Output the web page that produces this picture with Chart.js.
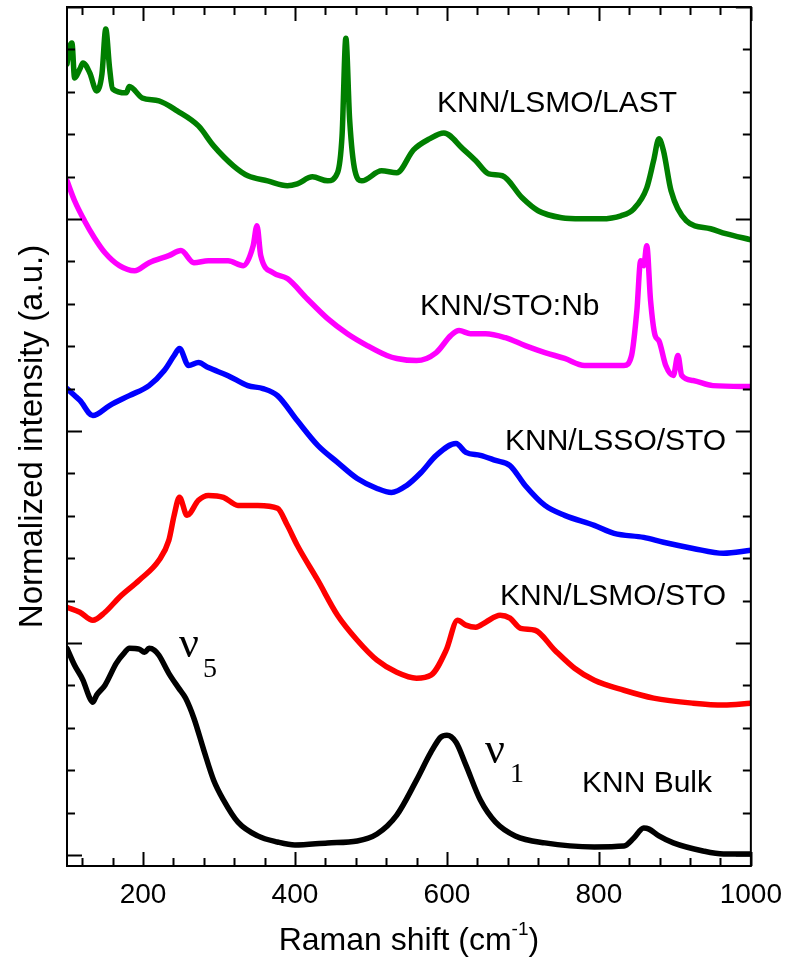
<!DOCTYPE html>
<html>
<head>
<meta charset="utf-8">
<script src="https://cdn.jsdelivr.net/npm/chart.js@4.4.1/dist/chart.umd.min.js"></script>
<style>
  html, body { margin: 0; padding: 0; background: #ffffff; }
  #wrap { width: 794px; height: 963px; }
</style>
</head>
<body>
<div id="wrap"><canvas id="raman" width="794" height="963"></canvas></div>
<script>
// Raman shift (cm-1) and stacked, normalized intensity (a.u.) for each sample
const bulkShift = [100,110,121,130,134,139,150,165,176,182,195,202,208,215,221,234,247,256,267,280,293,306,325,351,377,400,443,482,508,534,560,579,592,600,612,625,644,664,690,729,794,833,846,859,866,879,898,937,964,1000];
const bulkInt   = [0.975,0.895,0.825,0.740,0.721,0.754,0.801,0.905,0.956,0.975,0.971,0.956,0.975,0.966,0.942,0.857,0.787,0.740,0.645,0.495,0.353,0.259,0.155,0.090,0.061,0.047,0.057,0.066,0.099,0.188,0.353,0.485,0.556,0.565,0.532,0.424,0.259,0.155,0.090,0.057,0.038,0.042,0.080,0.127,0.122,0.090,0.057,0.019,0.005,0.005];

const lsmoStoShift = [100,117,134,150,169,195,221,234,241,248,258,273,286,306,325,351,377,390,403,430,456,482,508,534,560,579,599,614,625,638,651,670,683,697,716,742,768,794,833,872,924,964,1000];
const lsmoStoInt   = [1.168,1.145,1.107,1.145,1.216,1.296,1.390,1.484,1.602,1.687,1.602,1.673,1.696,1.687,1.649,1.649,1.635,1.555,1.461,1.296,1.131,1.013,0.919,0.862,0.834,0.848,0.966,1.107,1.084,1.074,1.098,1.131,1.117,1.069,1.060,0.966,0.881,0.824,0.777,0.740,0.716,0.707,0.716];

const lssoShift = [100,110,117,134,156,182,208,228,241,248,260,273,286,312,338,358,377,403,430,456,482,508,527,547,566,586,612,625,644,664,683,703,729,755,794,820,859,885,924,964,1000];
const lssoInt   = [2.200,2.167,2.144,2.073,2.120,2.167,2.214,2.285,2.356,2.389,2.309,2.323,2.299,2.261,2.214,2.200,2.167,2.049,1.932,1.852,1.776,1.729,1.710,1.743,1.804,1.885,1.941,1.899,1.885,1.861,1.837,1.743,1.649,1.602,1.555,1.517,1.498,1.475,1.446,1.423,1.437];

const stoNbShift = [100,110,123,136,150,169,189,208,234,250,267,286,312,332,345,350,355,371,390,416,443,469,495,521,534,560,586,605,616,631,651,677,703,729,755,781,807,833,843,850,855,859,863,868,874,879,888,898,904,909,924,950,1000];
const stoNbInt   = [3.180,3.086,2.992,2.912,2.841,2.780,2.756,2.794,2.827,2.851,2.794,2.803,2.803,2.780,2.874,2.968,2.827,2.747,2.719,2.624,2.530,2.459,2.403,2.356,2.342,2.332,2.370,2.450,2.474,2.459,2.459,2.440,2.403,2.370,2.342,2.309,2.309,2.309,2.356,2.568,2.803,2.780,2.874,2.615,2.450,2.426,2.309,2.262,2.356,2.262,2.238,2.214,2.210];

const lastShift = [100,104,106.5,110,117,121,130,139,146,151,156,160,178,182,199,221,245,273,293,319,338,364,390,403,423,443,456,462,467,472,479,488,514,534,556,577,596,621,638,655,673,699,720,751,777,803,829,846,863,872,879,885,895,915,947,967,1000];
const lastInt   = [3.731,3.816,3.830,3.665,3.708,3.736,3.689,3.604,3.684,3.896,3.713,3.614,3.595,3.625,3.571,3.557,3.510,3.439,3.345,3.251,3.204,3.180,3.157,3.166,3.199,3.180,3.218,3.393,3.853,3.467,3.227,3.180,3.227,3.218,3.326,3.378,3.406,3.331,3.275,3.213,3.204,3.100,3.039,3.006,3.001,3.001,3.015,3.048,3.147,3.275,3.378,3.322,3.133,2.992,2.954,2.931,2.902];

// Axis ticks
const xRange = [100, 1000];
const xMinorStep = 40;
const xFirstTick = 120;
const xTickLabels = [200, 400, 600, 800, 1000];
const yRange = [-0.052, 4.0];
const yMinorStep = 0.2;
const yMajorStep = 1;

// Curve labels
const sampleNames = ['KNN/LSMO/LAST', 'KNN/STO:Nb', 'KNN/LSSO/STO', 'KNN/LSMO/STO', 'KNN Bulk'];
const modeNames = [['\u03BD', '5'], ['\u03BD', '1']];

const SANS = "'Liberation Sans', Arial, Helvetica, sans-serif";
const SERIF = "'Liberation Serif', 'Times New Roman', serif";

function toPoints(xs, ys) { return xs.map((v, i) => ({ x: v, y: ys[i] })); }

function series(xs, ys, color) {
  return {
    data: toPoints(xs, ys),
    borderColor: color,
    backgroundColor: color,
    borderWidth: 5.5,
    pointRadius: 0,
    fill: false,
    cubicInterpolationMode: 'monotone',
    borderJoinStyle: 'round',
    borderCapStyle: 'round'
  };
}

const xTickValues = [];
for (let v = xFirstTick; v <= xRange[1] + 1e-9; v += xMinorStep) xTickValues.push(v);

// Frame, inward ticks on all four sides, axis titles and curve annotations
const framePlugin = {
  id: 'frame',
  afterDraw(chart) {
    const { ctx, chartArea: a, scales } = chart;
    const xs = scales.x, ys = scales.y;
    ctx.save();
    ctx.strokeStyle = '#000';
    ctx.lineWidth = 2;
    ctx.lineCap = 'butt';
    ctx.strokeRect(a.left, a.top, a.right - a.left, a.bottom - a.top);

    const seg = (x1, y1, x2, y2) => { ctx.beginPath(); ctx.moveTo(x1, y1); ctx.lineTo(x2, y2); ctx.stroke(); };

    xTickValues.forEach(v => {
      const px = Math.round(xs.getPixelForValue(v)) + 0.5;
      const len = xTickLabels.includes(v) ? 14 : 8;
      seg(px, a.bottom, px, a.bottom - len);
      seg(px, a.top, px, a.top + len);
    });

    const nY = Math.round(yRange[1] / yMinorStep);
    for (let i = 0; i <= nY; i++) {
      const v = i * yMinorStep;
      const py = Math.round(ys.getPixelForValue(v)) + 0.5;
      const major = Math.abs(v / yMajorStep - Math.round(v / yMajorStep)) < 1e-6;
      const len = major ? 15 : 8;
      seg(a.left, py, a.left + len, py);
      seg(a.right, py, a.right - len, py);
    }

    ctx.fillStyle = '#000';
    // x-axis title with superscript
    ctx.textBaseline = 'alphabetic';
    ctx.font = `32px ${SANS}`;
    const main = 'Raman shift (cm';
    const sup = '-1';
    const close = ')';
    const wMain = ctx.measureText(main).width;
    ctx.font = `19px ${SANS}`;
    const wSup = ctx.measureText(sup).width;
    ctx.font = `32px ${SANS}`;
    const wClose = ctx.measureText(close).width;
    const total = wMain + wSup + wClose;
    const cx = (a.left + a.right) / 2;
    let tx = cx - total / 2;
    const base = 950;
    ctx.textAlign = 'left';
    ctx.fillText(main, tx, base);
    ctx.font = `19px ${SANS}`;
    ctx.fillText(sup, tx + wMain, base - 15);
    ctx.font = `32px ${SANS}`;
    ctx.fillText(close, tx + wMain + wSup, base);

    // y-axis title
    ctx.save();
    ctx.translate(42, (a.top + a.bottom) / 2);
    ctx.rotate(-Math.PI / 2);
    ctx.textAlign = 'center';
    ctx.textBaseline = 'alphabetic';
    ctx.font = `33px ${SANS}`;
    ctx.fillText('Normalized intensity (a.u.)', 0, 0);
    ctx.restore();

    // sample names
    ctx.font = `30px ${SANS}`;
    ctx.textAlign = 'left';
    const namePos = [[437, 112], [420, 315], [505, 450], [500, 605], [582, 792]];
    sampleNames.forEach((t, i) => ctx.fillText(t, namePos[i][0], namePos[i][1]));

    // vibrational mode labels
    const modePos = [[179, 657, 203, 677], [485, 763, 510, 782]];
    modeNames.forEach((m, i) => {
      const p = modePos[i];
      ctx.font = `44px ${SERIF}`;
      ctx.fillText(m[0], p[0], p[1]);
      ctx.font = `28px ${SERIF}`;
      ctx.fillText(m[1], p[2], p[3]);
    });
    ctx.restore();
  }
};

new Chart(document.getElementById('raman'), {
  type: 'line',
  data: {
    datasets: [
      series(bulkShift, bulkInt, '#000000'),
      series(lsmoStoShift, lsmoStoInt, '#ff0000'),
      series(lssoShift, lssoInt, '#0000ff'),
      series(stoNbShift, stoNbInt, '#ff00ff'),
      series(lastShift, lastInt, '#007f00')
    ]
  },
  options: {
    responsive: false,
    animation: false,
    devicePixelRatio: 1,
    layout: { padding: { left: 67, right: 36, top: 7, bottom: 0 } },
    plugins: { legend: { display: false }, tooltip: { enabled: false }, title: { display: false } },
    scales: {
      x: {
        type: 'linear',
        min: xRange[0],
        max: xRange[1],
        afterBuildTicks: s => { s.ticks = xTickValues.map(v => ({ value: v })); },
        afterFit: s => { s.height = 97; },
        grid: { display: false, drawTicks: false },
        border: { display: false },
        ticks: {
          autoSkip: false,
          maxRotation: 0,
          padding: 12,
          color: '#000',
          font: { family: SANS, size: 28 },
          callback: v => (xTickLabels.includes(v) ? String(v) : '')
        }
      },
      y: {
        type: 'linear',
        display: false,
        min: yRange[0],
        max: yRange[1]
      }
    }
  },
  plugins: [framePlugin]
});
</script>
</body>
</html>
